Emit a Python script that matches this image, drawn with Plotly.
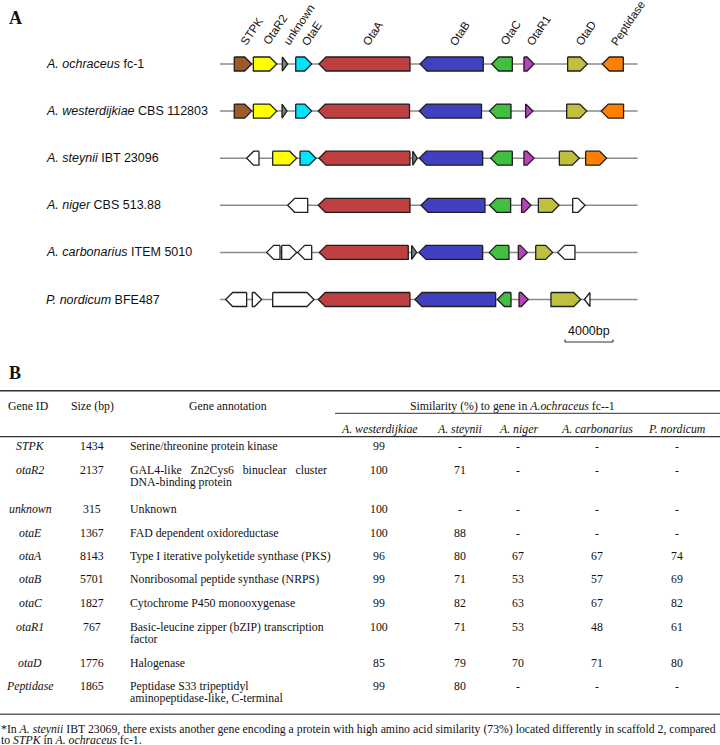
import plotly.graph_objects as go

W, H = 720, 745

# ---------------- Panel A data (gene coordinates in kb) ----------------
org_italic = ["A. ochraceus", "A. westerdijkiae", "A. steynii", "A. niger", "A. carbonarius", "P. nordicum"]
org_strain = ["fc-1", "CBS 112803", "IBT 23096", "CBS 513.88", "ITEM 5010", "BFE487"]
locus_len = [34.8, 34.8, 34.8, 34.8, 34.8, 34.8]

ochr_start = [1.19, 2.78, 5.19, 6.31, 8.25, 16.67, 22.64, 25.33, 28.97, 31.86]
ochr_end = [2.64, 4.73, 5.64, 7.64, 15.83, 21.94, 24.36, 26.17, 30.61, 33.61]
ochr_strand = [1, 1, 1, 1, -1, -1, -1, 1, 1, -1]
ochr_type = ["STPK", "OtaR2", "unknown", "OtaE", "OtaA", "OtaB", "OtaC", "OtaR1", "OtaD", "Peptidase"]

west_start = [1.19, 2.78, 5.17, 6.31, 8.19, 16.61, 22.46, 25.47, 28.89, 31.77]
west_end = [2.64, 4.73, 5.58, 7.64, 15.79, 21.79, 24.25, 26.08, 30.56, 33.63]
west_strand = [1, 1, 1, 1, -1, -1, -1, 1, 1, -1]
west_type = ["STPK", "OtaR2", "unknown", "OtaE", "OtaA", "OtaB", "OtaC", "OtaR1", "OtaD", "Peptidase"]

stey_start = [2.22, 4.39, 6.67, 8.25, 16.06, 16.61, 22.56, 25.33, 28.28, 30.47]
stey_end = [3.25, 6.39, 8.00, 15.83, 16.44, 21.89, 24.36, 26.17, 29.94, 32.22]
stey_strand = [-1, 1, 1, -1, 1, -1, -1, 1, 1, 1]
stey_type = ["other", "OtaR2", "OtaE", "OtaA", "unknown", "OtaB", "OtaC", "OtaR1", "OtaD", "Peptidase"]

nig_start = [5.64, 8.19, 16.75, 22.47, 25.14, 26.53, 29.39]
nig_end = [7.31, 15.83, 22.08, 24.22, 25.92, 28.25, 30.42]
nig_strand = [-1, -1, -1, -1, 1, 1, 1]
nig_type = ["other", "OtaA", "OtaB", "OtaC", "OtaR1", "OtaD", "other"]

carb_start = [3.89, 5.14, 6.47, 8.28, 15.97, 16.58, 22.44, 24.86, 26.31, 28.14]
carb_end = [5.00, 6.39, 7.64, 15.69, 16.39, 21.89, 24.08, 25.61, 27.72, 29.58]
carb_strand = [-1, 1, -1, -1, 1, -1, -1, 1, 1, -1]
carb_type = ["other", "other", "other", "OtaA", "unknown", "OtaB", "OtaC", "OtaR1", "OtaD", "other"]

nord_start = [0.47, 2.69, 4.39, 8.19, 16.25, 23.11, 24.92, 27.58, 30.36]
nord_end = [2.22, 3.47, 7.83, 15.83, 22.97, 24.25, 25.69, 30.06, 30.83]
nord_strand = [-1, 1, 1, -1, -1, -1, 1, 1, -1]
nord_type = ["other", "other", "other", "OtaA", "OtaB", "OtaC", "OtaR1", "OtaD", "other"]

gene_labels = ["STPK", "OtaR2", "unknown", "OtaE", "OtaA", "OtaB", "OtaC", "OtaR1", "OtaD", "Peptidase"]
scale_bar_kb = 4.0
scale_bar_text = "4000bp"

# ---------------- Panel B data (table) ----------------
tbl_gene = ["STPK", "otaR2", "unknown", "otaE", "otaA", "otaB", "otaC", "otaR1", "otaD", "Peptidase"]
tbl_size = ["1434", "2137", "315", "1367", "8143", "5701", "1827", "767", "1776", "1865"]
tbl_annot = [
    ["Serine/threonine protein kinase"],
    ["GAL4-like\u00a0\u00a0\u00a0Zn2Cys6\u00a0\u00a0\u00a0binuclear\u00a0\u00a0\u00a0cluster", "DNA-binding protein"],
    ["Unknown"],
    ["FAD dependent oxidoreductase"],
    ["Type I iterative polyketide synthase (PKS)"],
    ["Nonribosomal peptide synthase (NRPS)"],
    ["Cytochrome P450 monooxygenase"],
    ["Basic-leucine zipper (bZIP) transcription", "factor"],
    ["Halogenase"],
    ["Peptidase S33 tripeptidyl", "aminopeptidase-like, C-terminal"],
]
sim_cols = ["<i>A. westerdijkiae</i>", "<i>A. steynii</i>", "<i>A. niger</i>", "<i>A. carbonarius</i>", "<i>P. nordicum</i>"]
sim_west = ["99", "100", "100", "100", "96", "99", "99", "100", "85", "99"]
sim_stey = ["-", "71", "-", "88", "80", "71", "82", "71", "79", "80"]
sim_nig = ["-", "-", "-", "-", "67", "53", "63", "53", "70", "-"]
sim_carb = ["-", "-", "-", "-", "67", "57", "67", "48", "71", "-"]
sim_nord = ["-", "-", "-", "-", "74", "69", "82", "61", "80", "-"]
footnote = ["*In <i>A. steynii</i> IBT 23069, there exists another gene encoding a protein with high amino acid similarity (73%) located differently in scaffold 2, compared",
            "to <i>STPK</i> in <i>A. ochraceus</i> fc-1."]

# ---------------- styles / layout ----------------
colors = {"STPK": "#a0592a", "OtaR2": "#ffff00", "unknown": "#7f7f7f", "OtaE": "#00e5ff",
          "OtaA": "#bf4040", "OtaB": "#4040c0", "OtaC": "#40bf40", "OtaR1": "#bf40bf",
          "OtaD": "#bfbf40", "Peptidase": "#ff8000", "other": "#ffffff"}
X0_PX, PX_PER_KB = 220.0, 12.0
ROW0_PX, ROW_STEP_PX = 64.0, 47.1
HALF_H = 7.0 / ROW_STEP_PX
HEAD = 7.0 / PX_PER_KB
SANS = "Liberation Sans, Arial, sans-serif"
SERIF = "Liberation Serif, Times New Roman, serif"
TFS = 11.8

fig = go.Figure()

rows = [
    (ochr_start, ochr_end, ochr_strand, ochr_type),
    (west_start, west_end, west_strand, west_type),
    (stey_start, stey_end, stey_strand, stey_type),
    (nig_start, nig_end, nig_strand, nig_type),
    (carb_start, carb_end, carb_strand, carb_type),
    (nord_start, nord_end, nord_strand, nord_type),
]

for i, L in enumerate(locus_len):
    fig.add_trace(go.Scatter(x=[0, L], y=[i, i], mode="lines",
                             line=dict(color="#8a8a8a", width=1.5), hoverinfo="skip", showlegend=False))

for i, (st, en, sd, ty) in enumerate(rows):
    for s, e, d, t in zip(st, en, sd, ty):
        hl = min(HEAD, e - s)
        if d > 0:
            xs = [s, e - hl, e, e - hl, s, s]
        else:
            xs = [e, s + hl, s, s + hl, e, e]
        ys = [i - HALF_H, i - HALF_H, i, i + HALF_H, i + HALF_H, i - HALF_H]
        fig.add_trace(go.Scatter(x=xs, y=ys, mode="lines", fill="toself",
                                 fillcolor=colors[t], line=dict(color="#1e1e1e", width=1.3),
                                 hoverinfo="skip", showlegend=False))

# scale bar
sb_x0 = (565 - X0_PX) / PX_PER_KB
sb_y = (342 - ROW0_PX) / ROW_STEP_PX
fig.add_trace(go.Scatter(x=[sb_x0, sb_x0 + scale_bar_kb], y=[sb_y, sb_y], mode="lines",
                         line=dict(color="#333333", width=1.2), hoverinfo="skip", showlegend=False))
tick = 2.5 / ROW_STEP_PX
for xx in (sb_x0, sb_x0 + scale_bar_kb):
    fig.add_trace(go.Scatter(x=[xx, xx], y=[sb_y - tick, sb_y], mode="lines",
                             line=dict(color="#333333", width=1.2), hoverinfo="skip", showlegend=False))

ann = []
ann.append(dict(x=sb_x0 + scale_bar_kb / 2, y=(331 - ROW0_PX) / ROW_STEP_PX, xref="x", yref="y",
                text=scale_bar_text, showarrow=False, font=dict(family=SANS, size=12.5, color="#111"),
                xanchor="center", yanchor="middle"))

# gene labels above first row
for lab, s, e in zip(gene_labels, ochr_start, ochr_end):
    ann.append(dict(x=(s + e) / 2, y=(50 - ROW0_PX) / ROW_STEP_PX, xref="x", yref="y", text=lab,
                    showarrow=False, textangle=-56, xanchor="left", yanchor="bottom", xshift=-7,
                    font=dict(family=SANS, size=11.5, color="#111")))

# organism labels
for i, (a, b) in enumerate(zip(org_italic, org_strain)):
    ann.append(dict(x=44 / W, y=i, xref="paper", yref="y", text="<i>%s</i> %s" % (a, b),
                    showarrow=False, xanchor="left", yanchor="middle",
                    font=dict(family=SANS, size=12.5, color="#111")))

def px(xp):
    return xp / W

def py(yp):
    return 1 - yp / H

def txt(x, y, t, size=TFS, anchor="center", family=SERIF, yanchor="middle"):
    ann.append(dict(x=px(x), y=py(y), xref="paper", yref="paper", text=t, showarrow=False,
                    xanchor=anchor, yanchor=yanchor, borderpad=0,
                    font=dict(family=family, size=size, color="#111")))

# panel letters
txt(8, 18, "<b>A</b>", size=18, anchor="left")
txt(8, 373, "<b>B</b>", size=18, anchor="left")

# table header
txt(28, 406, "Gene ID")
txt(92, 406, "Size (bp)")
txt(228, 406, "Gene annotation")
txt(512, 406.5, "Similarity (%) to gene in <i>A.ochraceus</i> fc--1")
col_x = [379, 460, 518, 597, 677]
for cx, c in zip(col_x, sim_cols):
    txt(cx, 429, c)

row_y = [446, 470, 509.3, 532.7, 556, 579.3, 602.6, 626.6, 662.6, 686]
sims = [sim_west, sim_stey, sim_nig, sim_carb, sim_nord]
for r, yy in enumerate(row_y):
    txt(30, yy, "<i>%s</i>" % tbl_gene[r])
    txt(92, yy, tbl_size[r])
    for k, line in enumerate(tbl_annot[r]):
        txt(129, yy + 12.2 * k, line, anchor="left")
    for cx, col in zip(col_x, sims):
        txt(cx, yy, col[r])

txt(0, 729, footnote[0], size=11.75, anchor="left")
txt(0, 740, footnote[1], size=11.75, anchor="left")

shapes = [
    dict(type="line", xref="paper", yref="paper", x0=0, x1=1, y0=py(390.7), y1=py(390.7), line=dict(color="#333", width=1.5)),
    dict(type="line", xref="paper", yref="paper", x0=px(335), x1=1, y0=py(413.3), y1=py(413.3), line=dict(color="#333", width=1)),
    dict(type="line", xref="paper", yref="paper", x0=0, x1=1, y0=py(436.7), y1=py(436.7), line=dict(color="#333", width=1.2)),
    dict(type="line", xref="paper", yref="paper", x0=0, x1=1, y0=py(714.3), y1=py(714.3), line=dict(color="#666", width=1.5)),
]

fig.update_layout(
    width=W, height=H, margin=dict(l=0, r=0, t=0, b=0),
    paper_bgcolor="white", plot_bgcolor="white", showlegend=False,
    xaxis=dict(range=[-X0_PX / PX_PER_KB, (W - X0_PX) / PX_PER_KB], domain=[0, 1], visible=False, fixedrange=True),
    yaxis=dict(range=[(H - ROW0_PX) / ROW_STEP_PX, -ROW0_PX / ROW_STEP_PX], domain=[0, 1], visible=False, fixedrange=True),
    annotations=ann, shapes=shapes,
)

fig.write_html("out.html", config={"displayModeBar": False},
               post_script="document.body.style.margin='0';document.body.style.overflow='hidden';")
